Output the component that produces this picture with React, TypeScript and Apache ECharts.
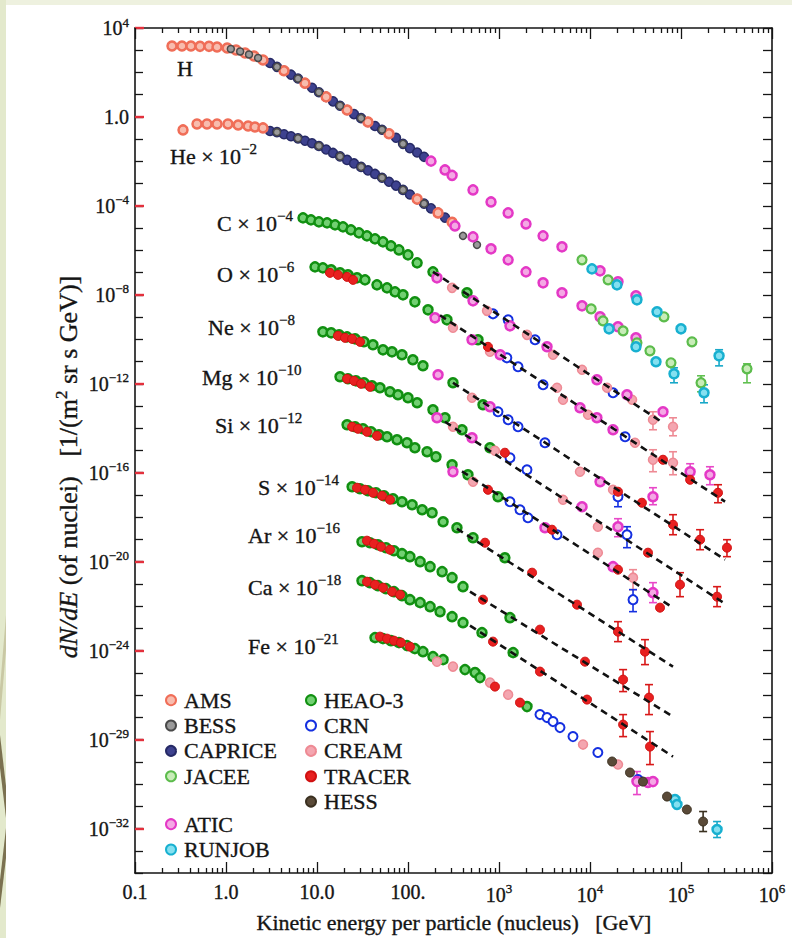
import React, { useEffect, useRef } from "react";
import * as echarts from "echarts";

type Pt = [number, number];
type Bar = [number, number, number];

// ---------- tick labels ----------
const X_DECADES = [-1, 0, 1, 2, 3, 4, 5, 6];
const X_TICK_BASE = ["0.1", "1.0", "10.0", "100.", "10", "10", "10", "10"];
const X_TICK_SUP = ["", "", "", "", "3", "4", "5", "6"];
const MINOR_MULT = [2, 3, 4, 5, 6, 7, 8, 9];
const Y_LABEL_POS = [4, 0, -4, -8, -12, -16, -20, -24, -28, -32];
const Y_TICK_BASE = ["10", "1.0", "10", "10", "10", "10", "10", "10", "10", "10"];
const Y_TICK_SUP = ["4", "", "\u22124", "\u22128", "\u221212", "\u221216", "\u221220", "\u221224", "\u221229", "\u221232"];

// ---------- element annotations ----------
const ELEMENTS = ["H", "He", "C", "O", "Ne", "Mg", "Si", "S", "Ar", "Ca", "Fe"];
const SCALE_EXP = ["", "\u22122", "\u22124", "\u22126", "\u22128", "\u221210", "\u221212", "\u221214", "\u221216", "\u221218", "\u221221"];
const LABEL_XY: Pt[] = [[177, 68], [170, 156], [217, 223], [217, 274], [208, 327], [202, 377], [215, 425], [258, 487], [248, 535], [248, 587], [248, 646]];

// ---------- data: [kinetic energy GeV, scaled dN/dE] ----------
const AMS_H: Pt[] = [[0.255, 1.55e3], [0.328, 1.55e3], [0.412, 1.55e3], [0.518, 1.5e3], [0.65, 1.5e3], [0.797, 1.4e3], [1.03, 1.26e3], [1.29, 1.03e3], [1.62, 750], [2.03, 550], [2.55, 365], [4.34, 119], [7.38, 33], [12.6, 8.0], [21.4, 2.06], [36.3, 0.596], [61.8, 0.176]];
const AMS_HE: Pt[] = [[0.337, 0.261], [0.48, 0.485], [0.618, 0.485], [0.797, 0.485], [1.05, 0.485], [1.36, 0.437], [1.75, 0.394], [2.08, 0.355], [2.55, 0.321], [126, 2.02e-4], [214, 4.84e-5], [305, 1.85e-5]];
const BESS_H: Pt[] = [[1.13, 1.14e3], [1.43, 879], [1.79, 644], [2.25, 448], [3.63, 179], [6.18, 53.2], [10.5, 12.9], [17.9, 3.19], [30.5, 0.883], [51.8, 0.266], [88.1, 0.0618], [179, 0.0103]];
const BESS_HE: Pt[] = [[3.63, 0.207], [6.18, 0.109], [10.5, 0.0497], [17.9, 0.0168], [30.5, 5.66e-3], [51.8, 1.85e-3], [88.1, 5.24e-4], [150, 1.26e-4], [402, 4.49e-6], [573, 1.77e-6]];
const CAPRICE_H: Pt[] = [[3.05, 267], [3.63, 179], [4.34, 119], [5.18, 79.6], [6.18, 53.2], [7.38, 33], [8.81, 20.5], [10.5, 12.9], [12.6, 8.0], [15, 5.02], [17.9, 3.19], [21.4, 2.06], [25.5, 1.34], [30.5, 0.883], [36.3, 0.596], [43.4, 0.394], [51.8, 0.266], [61.8, 0.176], [73.8, 0.116], [88.1, 0.0618], [105, 0.0396], [126, 0.0251], [150, 0.0161]];
const CAPRICE_HE: Pt[] = [[3.05, 0.235], [3.63, 0.207], [4.34, 0.167], [5.18, 0.136], [6.18, 0.109], [7.38, 0.0851], [8.81, 0.0658], [10.5, 0.0497], [12.6, 0.0346], [15, 0.0241], [17.9, 0.0168], [21.4, 0.0117], [25.5, 8.13e-3], [30.5, 5.66e-3], [36.3, 3.94e-3], [43.4, 2.74e-3], [51.8, 1.85e-3], [61.8, 1.22e-3], [73.8, 8.17e-4], [88.1, 5.24e-4], [105, 3.25e-4], [126, 2.02e-4], [150, 1.26e-4], [179, 7.73e-5], [214, 4.84e-5], [255, 2.98e-5]];

const ATIC_H: Pt[] = [[179, 0.0103], [255, 4.15e-3], [305, 2.35e-3], [518, 5.24e-4], [817, 1.51e-4], [1.26e3, 4.84e-5], [1.98e3, 1.55e-5], [3.05e3, 4.49e-6], [4.92e3, 1.44e-6], [1.29e4, 1.2e-7], [2.03e4, 3.84e-8], [3.2e4, 9.02e-9]];
const ATIC_HE: Pt[] = [[328, 1.26e-5], [518, 4.04e-6], [817, 1.17e-6], [1.26e3, 3.74e-7], [1.98e3, 1.08e-7], [3.05e3, 3.46e-8], [4.92e3, 1.23e-8], [8.17e3, 3.2e-9], [1.29e4, 1.03e-9], [2.03e4, 3.65e-10], [3.2e4, 1.17e-10]];
const ATIC_C: Pt[] = [[208, 5.81e-8], [518, 5.37e-9], [1.32e3, 4.04e-10], [3.37e3, 4.6e-11], [1.19e4, 1.51e-12], [2.55e4, 3.2e-13], [6.34e4, 5.52e-14]];
const ATIC_O: Pt[] = [[198, 9.25e-10], [505, 9.5e-11], [1.03e3, 2.01e-11], [7.76e3, 8.34e-14], [1.19e4, 2.96e-14], [1.79e4, 8.57e-15], [1.26e5, 1.11e-16], [2.08e5, 8.13e-17]];
const ATIC_NE: Pt[] = [[214, 2.54e-12], [796, 9.25e-14], [1.29e4, 3.94e-17], [4.92e4, 8.34e-18]];
const ATIC_MG: Pt[] = [[208, 2.96e-14], [505, 3.74e-15], [8.17e3, 2.96e-18], [2.03e4, 3.74e-19]];
const ATIC_SI: Pt[] = [[312, 1.11e-16], [3.2e3, 3.37e-19], [1.79e4, 5.96e-21], [4.92e4, 4.04e-22]];
const ATIC_FE: Pt[] = [[3.28e4, 1.29e-30], [4.34e4, 1.17e-30], [4.92e4, 1.29e-30]];

const JACEE_H: Pt[] = [[8.17e3, 3.74e-7], [1.58e4, 4.72e-8], [6.5e4, 1.03e-9], [1.32e5, 7.72e-11], [5.31e5, 4.72e-12]];
const JACEE_HE: Pt[] = [[1.03e4, 2.35e-9], [1.39e4, 6.78e-10], [2.31e4, 2.41e-10], [3.28e4, 6.96e-11], [4.56e4, 3.04e-11], [7.76e4, 8.79e-12], [1.66e5, 1.11e-12]];
const RUNJOB_H: Pt[] = [[1.05e4, 1.47e-7], [1.98e4, 2.81e-8], [3.28e4, 5.96e-9], [5.45e4, 1.72e-9], [1.0e5, 2.96e-10], [2.62e5, 1.81e-11]];
const RUNJOB_HE: Pt[] = [[1.62e4, 2.96e-10], [3.2e4, 4.6e-11], [5.31e4, 9.75e-12], [8.38e4, 2.81e-12], [1.79e5, 3.94e-13]];
const RUNJOB_FE: Pt[] = [[8.59e4, 2.01e-31], [9.03e4, 1.2e-31], [2.49e5, 9.0e-33]];

const HEAO_C: Pt[] = [[7.02, 2.89e-5], [8.59, 2.35e-5], [10.5, 1.91e-5], [12.9, 1.72e-5], [15.8, 1.4e-5], [19.3, 1.14e-5], [23.6, 8.34e-6], [28.9, 6.12e-6], [35.4, 4.49e-6], [43.4, 3.29e-6], [53.1, 2.41e-6], [65.0, 1.59e-6], [79.6, 1.05e-6], [100, 6.28e-7], [126, 2.74e-7], [188, 1.08e-7], [445, 1.23e-8]];
const HEAO_O: Pt[] = [[9.51, 1.81e-7], [11.6, 1.63e-7], [14.3, 1.33e-7], [17.9, 9.75e-8], [21.9, 7.93e-8], [27.5, 5.81e-8], [33.7, 4.72e-8], [45.6, 2.81e-8], [58.8, 2.06e-8], [72.0, 1.36e-8], [88.1, 1.0e-8], [119, 4.84e-9], [166, 2.12e-9], [268, 7.52e-10], [588, 9.5e-11]];
const HEAO_NE: Pt[] = [[11.6, 2.17e-10], [14.3, 1.96e-10], [17.5, 1.59e-10], [21.4, 1.29e-10], [26.2, 1.05e-10], [32.8, 7.72e-11], [41.2, 5.66e-11], [53.1, 3.37e-11], [66.7, 2.74e-11], [85.9, 2.01e-11], [113, 1.2e-11], [146, 6.44e-12], [312, 1.11e-12], [667, 1.14e-13]];
const HEAO_MG: Pt[] = [[17.9, 2.06e-12], [21.9, 1.68e-12], [26.8, 1.36e-12], [32.8, 1.11e-12], [40.2, 8.13e-13], [49.2, 6.61e-13], [63.4, 4.37e-13], [77.6, 3.2e-13], [100, 2.35e-13], [126, 1.4e-13], [188, 6.78e-14], [255, 2.96e-14], [392, 8.57e-15], [796, 1.33e-15]];
const HEAO_SI: Pt[] = [[21.4, 1.44e-14], [26.2, 1.17e-14], [32.0, 9.5e-15], [39.2, 6.97e-15], [48.0, 5.11e-15], [58.8, 4.15e-15], [75.7, 3.04e-15], [97.5, 2.23e-15], [119, 1.33e-15], [162, 8.79e-16], [203, 5.24e-16], [305, 2.29e-16], [456, 8.13e-17], [975, 8.34e-18]];
const HEAO_S: Pt[] = [[24.3, 2.35e-17], [29.7, 1.91e-17], [36.3, 1.55e-17], [44.5, 1.26e-17], [54.5, 9.25e-18], [68.4, 6.78e-18], [85.9, 4.98e-18], [111, 3.65e-18], [143, 2.17e-18], [184, 1.59e-18], [243, 6.28e-19], [345, 3.37e-19], [518, 1.2e-19], [1.16e3, 1.51e-20]];
const HEAO_AR: Pt[] = [[31.2, 7.93e-20], [38.2, 7.14e-20], [46.8, 5.81e-20], [57.3, 4.26e-20], [70.2, 3.12e-20], [85.9, 2.29e-20], [105, 1.68e-20], [136, 1.0e-20], [175, 5.96e-21], [237, 3.56e-21], [305, 1.91e-21], [402, 7.52e-22], [1.32e3, 3.04e-23]];
const HEAO_CA: Pt[] = [[31.2, 1.4e-21], [38.2, 1.14e-21], [46.8, 8.34e-22], [57.3, 6.12e-22], [70.2, 4.48e-22], [85.9, 2.96e-22], [105, 1.96e-22], [136, 1.44e-22], [175, 9.5e-23], [225, 5.66e-23], [305, 3.37e-23], [402, 1.81e-23], [650, 6.44e-24], [1.43e3, 8.13e-25]];
const HEAO_FE: Pt[] = [[43.4, 3.84e-24], [53.1, 3.46e-24], [65.0, 2.81e-24], [79.6, 2.29e-24], [97.5, 1.68e-24], [119, 1.23e-24], [146, 9.0e-25], [188, 5.37e-25], [243, 3.94e-25], [423, 1.4e-25], [545, 1.03e-25], [618, 6.12e-26], [2.03e3, 3.04e-27]];

const CRN_C: Pt[] = [[859, 1.4e-9], [1.26e3, 7.52e-10], [2.49e3, 9.5e-11], [1.79e4, 3.94e-13]];
const CRN_O: Pt[] = [[1.22e3, 1.47e-11], [1.62e3, 5.8e-12], [3.05e3, 9.0e-13], [2.43e4, 4.15e-15]];
const CRN_NE: Pt[] = [[975, 5.52e-14], [1.26e3, 2.41e-14], [1.62e3, 1.17e-14], [3.2e3, 2.23e-15], [2.03e4, 8.34e-18]];
const CRN_MG: Pt[] = [[1.32e3, 4.72e-16], [2.03e3, 1.36e-16], [2.55e4, 1.63e-19]];
const CRN_SI: Pt[] = [[1.32e3, 4.98e-18], [1.7e3, 2.17e-18], [2.08e3, 9.5e-19], [4.34e3, 1.63e-19], [2.97e4, 1.96e-22]];
const CRN_FE: Pt[] = [[2.82e3, 1.33e-27], [3.37e3, 9.75e-28], [3.92e3, 6.44e-28], [4.68e3, 3.46e-28], [6.5e3, 1.36e-28], [1.22e4, 2.61e-29], [3.37e4, 1.59e-30]];

const CREAM_C: Pt[] = [[305, 2.06e-8], [738, 1.91e-9], [2.03e3, 1.59e-10], [3.92e3, 2.01e-11], [8.17e3, 4.26e-12], [1.54e4, 6.61e-13], [2.9e4, 1.91e-13], [4.92e4, 2.41e-14], [8.17e4, 1.17e-14]];
const CREAM_O: Pt[] = [[312, 3.29e-10], [796, 2.74e-11], [4.34e3, 6.61e-13], [5.05e3, 1.91e-13], [9.51e3, 4.05e-14], [3.12e4, 2.23e-15], [4.92e4, 3.84e-16], [8.17e4, 2.81e-16]];
const CREAM_NE: Pt[] = [[505, 2.35e-13], [7.76e3, 1.11e-16], [1.79e4, 1.72e-17]];
const CREAM_MG: Pt[] = [[312, 1.17e-14], [903, 9.75e-16], [5.05e3, 6.12e-18], [1.22e4, 3.74e-19]];
const CREAM_SI: Pt[] = [[518, 3.94e-17], [1.22e4, 2.54e-20], [2.97e4, 1.91e-21]];
const CREAM_FE: Pt[] = [[208, 3.2e-25], [312, 1.91e-25], [796, 3.65e-26], [1.26e3, 1.05e-26], [8.38e3, 5.96e-29], [2.03e4, 7.52e-30]];

const TRACER_O: Pt[] = [[13.9, 9.75e-8], [17.0, 7.93e-8], [21.4, 6.44e-8], [24.9, 4.72e-8], [757, 4.6e-11], [6.34e4, 3.84e-16], [1.26e5, 4.84e-17], [2.55e5, 1.26e-17]];
const TRACER_NE: Pt[] = [[17.0, 1.44e-10], [20.3, 1.17e-10], [24.3, 1.05e-10], [29.7, 7.72e-11], [2.03e4, 1.4e-17], [3.72e4, 4.48e-18], [8.17e4, 4.6e-19], [1.62e5, 9.75e-20], [3.2e5, 4.26e-20]];
const TRACER_MG: Pt[] = [[21.4, 1.68e-12], [25.5, 1.36e-12], [30.5, 1.0e-12], [38.2, 7.33e-13], [1.16e3, 7.93e-16], [4.34e4, 2.54e-20], [9.75e4, 9.25e-22], [2.49e5, 2.67e-22]];
const TRACER_SI: Pt[] = [[24.3, 1.17e-14], [28.2, 9.5e-15], [35.4, 6.97e-15], [45.6, 4.6e-15], [757, 1.72e-17], [3.82e3, 2.74e-19], [2.03e4, 4.37e-21], [5.88e4, 8.57e-23]];
const TRACER_S: Pt[] = [[27.5, 2.12e-17], [33.7, 1.72e-17], [41.2, 1.26e-17], [51.8, 9.25e-18], [63.4, 6.12e-18], [702, 7.14e-20], [2.31e3, 3.2e-21], [7.2e3, 1.17e-22], [2.03e4, 7.14e-24], [4.02e4, 9.0e-25]];
const TRACER_AR: Pt[] = [[35.4, 8.79e-20], [42.3, 6.44e-20], [50.5, 4.72e-20], [63.4, 3.46e-20], [667, 1.96e-22], [2.82e3, 8.79e-24], [8.81e3, 3.2e-25], [2.31e4, 4.98e-26], [4.45e4, 7.72e-27]];
const TRACER_CA: Pt[] = [[35.4, 1.26e-21], [43.4, 9.25e-22], [53.1, 6.78e-22], [66.7, 4.48e-22], [81.7, 3.29e-22], [859, 2.54e-24], [2.82e3, 1.14e-25], [9.27e3, 6.28e-27], [2.31e4, 4.72e-28], [4.56e4, 4.84e-29]];
const TRACER_FE: Pt[] = [[49.2, 4.26e-24], [58.8, 3.46e-24], [70.2, 2.81e-24], [83.8, 2.29e-24], [105, 1.51e-24], [903, 2.41e-26], [1.7e3, 4.6e-27]];

const HESS_FE: Pt[] = [[1.75e4, 1.03e-29], [2.75e4, 3.29e-30], [3.82e4, 1.29e-30], [7.02e4, 2.74e-31], [1.16e5, 7.14e-32], [1.75e5, 2.06e-32]];

// error bars: [E, low, high]
const ERR_JACEE: Bar[] = [[5.31e5, 1.11e-12, 7.9e-12], [1.66e5, 4.37e-13, 2.29e-12]];
const ERR_RUNJOB: Bar[] = [[2.62e5, 6.4e-12, 3.4e-11], [8.38e4, 1.11e-12, 5.24e-12], [1.79e5, 1.4e-13, 9.0e-13], [2.49e5, 3.94e-33, 2.06e-32]];
const ERR_CREAM: Bar[] = [[4.92e4, 8.57e-15, 5.52e-14], [8.17e4, 4.6e-15, 2.96e-14], [4.92e4, 1.11e-16, 1.08e-15], [8.17e4, 8.13e-17, 8.79e-16], [2.97e4, 5.52e-22, 4.37e-21]];
const ERR_ATIC: Bar[] = [[1.26e5, 3.94e-17, 2.54e-16], [2.08e5, 2.89e-17, 1.86e-16], [4.92e4, 3.65e-18, 2.12e-17], [2.03e4, 1.33e-19, 8.57e-19], [4.92e4, 1.44e-22, 1.14e-21], [3.28e4, 3.37e-31, 3.65e-30]];
const ERR_TRACER: Bar[] = [[2.55e5, 4.48e-18, 2.89e-17], [8.17e4, 1.63e-19, 1.3e-18], [1.62e5, 3.46e-20, 2.74e-19], [3.2e5, 1.68e-20, 9.75e-20], [9.75e4, 2.67e-22, 3.2e-21], [2.49e5, 9.5e-23, 7.52e-22], [2.03e4, 2.54e-24, 2.01e-23], [4.02e4, 2.35e-25, 3.12e-24], [2.31e4, 1.44e-26, 1.4e-25], [4.45e4, 1.33e-27, 2.96e-26], [2.31e4, 1.36e-28, 1.33e-27], [4.56e4, 7.52e-30, 2.29e-28]];
const ERR_CRN: Bar[] = [[2.03e4, 2.96e-18, 1.72e-17], [2.55e4, 4.26e-20, 3.74e-19], [2.97e4, 5.66e-23, 5.52e-22]];
const ERR_HESS: Bar[] = [[1.75e5, 7.33e-33, 5.81e-32]];

// dashed power-law guides
const FIT_C: Pt[] = [[188, 1.08e-7], [6.34e4, 1.77e-14]];
const FIT_O: Pt[] = [[225, 1.21e-9], [3.05e5, 4.98e-18]];
const FIT_NE: Pt[] = [[312, 1.11e-12], [3.05e5, 1.23e-20]];
const FIT_MG: Pt[] = [[255, 1.96e-14], [3.05e5, 1.29e-22]];
const FIT_SI: Pt[] = [[392, 1.16e-16], [8.17e4, 8.57e-23]];
const FIT_S: Pt[] = [[345, 3.04e-19], [8.17e4, 1.91e-25]];
const FIT_AR: Pt[] = [[480, 4.48e-22], [8.17e4, 1.08e-27]];
const FIT_CA: Pt[] = [[480, 1.33e-23], [8.17e4, 1.72e-29]];

const FONT = "'Liberation Serif', 'Times New Roman', serif";
const INK = "#151515";
// heavier strokes: ECharts text-style naming (axes, legend) and zrender naming (graphic)
const HEAVY = { textBorderColor: INK, textBorderWidth: 0.35 };
const HEAVY_G = { stroke: INK, lineWidth: 0.35 };

function scatter(name: string, data: Pt[], color: string, border: string, bw: number, size: number) {
  return {
    name, type: "scatter", xAxisIndex: 0, yAxisIndex: 0, data,
    symbol: "circle", symbolSize: size, z: 2, silent: true,
    itemStyle: { color, borderColor: border, borderWidth: bw, opacity: 1 },
    emphasis: { disabled: true },
  };
}

function errBars(name: string, data: Bar[], color: string) {
  return {
    name, type: "custom", xAxisIndex: 0, yAxisIndex: 0, data, z: 1, silent: true,
    encode: { x: 0, y: [1, 2] },
    renderItem: (_p: any, api: any) => {
      const e = api.value(0);
      const a = api.coord([e, api.value(1)]);
      const b = api.coord([e, api.value(2)]);
      const w = 4;
      const st = { stroke: color, lineWidth: 1.6 };
      return {
        type: "group",
        children: [
          { type: "line", shape: { x1: a[0], y1: a[1], x2: b[0], y2: b[1] }, style: st },
          { type: "line", shape: { x1: a[0] - w, y1: a[1], x2: a[0] + w, y2: a[1] }, style: st },
          { type: "line", shape: { x1: b[0] - w, y1: b[1], x2: b[0] + w, y2: b[1] }, style: st },
        ],
      };
    },
  };
}

function fit(name: string, data: Pt[]) {
  return {
    name, type: "line", xAxisIndex: 0, yAxisIndex: 0, data, symbol: "none", z: 3, silent: true,
    lineStyle: { color: "#111", width: 2.6, type: [7, 5] },
  };
}

const supRich = (size: number, supSize: number, lift: number) => ({
  b: { fontFamily: FONT, fontSize: size, color: INK, ...HEAVY },
  s: { fontFamily: FONT, fontSize: supSize, color: INK, padding: [0, 0, lift, 0], ...HEAVY },
});
const supRichG = (size: number, supSize: number, lift: number) => ({
  b: { fontFamily: FONT, fontSize: size, fill: INK, ...HEAVY_G },
  s: { fontFamily: FONT, fontSize: supSize, fill: INK, padding: [0, 0, lift, 0], ...HEAVY_G },
});

export default function App() {
  const ref = useRef<HTMLDivElement>(null);
  useEffect(() => {
    if (!ref.current) return;
    const chart = echarts.init(ref.current, undefined, { renderer: "svg" });

    const xMinor: number[] = [];
    X_DECADES.slice(0, -1).forEach((d) => MINOR_MULT.forEach((m) => xMinor.push(d + Math.log10(m))));

    const xLabel = (v: number) => {
      const i = X_DECADES.indexOf(Math.round(v));
      if (i < 0) return "";
      return X_TICK_SUP[i] ? `{b|${X_TICK_BASE[i]}}{s|${X_TICK_SUP[i]}}` : `{b|${X_TICK_BASE[i]}}`;
    };
    const yLabel = (v: number) => {
      const i = Y_LABEL_POS.indexOf(Math.round(v));
      if (i < 0) return "";
      return Y_TICK_SUP[i] ? `{b|${Y_TICK_BASE[i]}}{s|${Y_TICK_SUP[i]}}` : `{b|${Y_TICK_BASE[i]}}`;
    };

    const tickLine = { color: INK, width: 1.3 };
    const frameLine = { show: true, onZero: false, lineStyle: { color: INK, width: 1.6 } };
    const deco = { type: "value", silent: true, splitLine: { show: false } };
    const legendText = { fontFamily: FONT, fontSize: 22, lineHeight: 22, color: INK, ...HEAVY };

    const labelTexts = ELEMENTS.map((el, i) => ({
      type: "text",
      x: LABEL_XY[i][0],
      y: LABEL_XY[i][1],
      z: 20,
      style: {
        text: SCALE_EXP[i] ? `{b|${el} \u00d7 10}{s|${SCALE_EXP[i]}}` : `{b|${el}}`,
        rich: supRichG(22, 15, 14),
        align: "left",
        verticalAlign: "middle",
        fontFamily: FONT,
        fontSize: 22,
        fill: INK,
      },
    }));

    const option: any = {
      animation: false,
      backgroundColor: "#ffffff",
      grid: { left: 135, right: 20, top: 28, bottom: 65, containLabel: false, outerBoundsMode: "none" },
      xAxis: [
        { type: "log", logBase: 10, min: 0.1, max: 1e6, show: false, position: "bottom" },
        {
          ...deco, min: -1, max: 6, interval: 1, position: "bottom",
          axisLine: frameLine,
          axisTick: { show: true, inside: true, length: 11, lineStyle: tickLine },
          axisLabel: { formatter: xLabel, margin: 9, rich: supRich(20, 13, 12), fontFamily: FONT, fontSize: 20, color: INK },
        },
        {
          ...deco, min: -1, max: 6, position: "bottom",
          axisLine: { show: false, onZero: false },
          axisTick: { show: true, inside: true, length: 5, customValues: xMinor, lineStyle: tickLine },
          axisLabel: { show: false },
        },
        {
          ...deco, min: -1, max: 6, interval: 1, position: "top",
          axisLine: frameLine,
          axisTick: { show: true, inside: true, length: 11, lineStyle: tickLine },
          axisLabel: { show: false },
        },
        {
          ...deco, min: -1, max: 6, position: "top",
          axisLine: { show: false, onZero: false },
          axisTick: { show: true, inside: true, length: 5, customValues: xMinor, lineStyle: tickLine },
          axisLabel: { show: false },
        },
      ],
      yAxis: [
        { type: "log", logBase: 10, min: 1e-34, max: 1e4, show: false, position: "left" },
        {
          ...deco, min: -34, max: 4, interval: 1, position: "left",
          axisLine: frameLine,
          axisTick: { show: true, inside: true, length: 8, lineStyle: tickLine },
          axisLabel: { formatter: yLabel, customValues: Y_LABEL_POS, margin: 6, rich: supRich(20, 13, 12), fontFamily: FONT, fontSize: 20, color: INK },
        },
        {
          ...deco, min: -34, max: 4, position: "left",
          axisLine: { show: false, onZero: false },
          axisTick: { show: true, inside: true, length: 9, customValues: Y_LABEL_POS, lineStyle: { color: "#e3303c", width: 2.4 } },
          axisLabel: { show: false },
        },
        {
          ...deco, min: -34, max: 4, interval: 1, position: "right",
          axisLine: frameLine,
          axisTick: { show: true, inside: true, length: 9, lineStyle: tickLine },
          axisLabel: { show: false },
        },
      ],
      legend: [
        {
          data: ["AMS", "BESS", "CAPRICE", "JACEE"], left: 160, top: 684, orient: "vertical",
          itemWidth: 16, itemHeight: 10, itemGap: 3, selectedMode: false, textStyle: legendText,
        },
        {
          data: ["ATIC", "RUNJOB"], left: 160, top: 808, orient: "vertical",
          itemWidth: 16, itemHeight: 10, itemGap: 3, selectedMode: false, textStyle: legendText,
        },
        {
          data: ["HEAO-3", "CRN", "CREAM", "TRACER", "HESS"], left: 300, top: 684, orient: "vertical",
          itemWidth: 16, itemHeight: 10, itemGap: 3, selectedMode: false, textStyle: legendText,
        },
      ],
      graphic: [
        { type: "rect", left: 0, top: 0, z: 0, shape: { width: 792, height: 5 }, style: { fill: "#eef1df" } },
        { type: "rect", left: 0, top: 0, z: 0, shape: { width: 6, height: 938 }, style: { fill: "#e3e9cc" } },
        { type: "polygon", z: 1, shape: { points: [[6, 615], [6, 650], [0, 720], [0, 688]] }, style: { fill: "#c9c8a4" } },
        { type: "polygon", z: 1, shape: { points: [[0, 735], [0, 768], [6, 818], [6, 786]] }, style: { fill: "#7b7150" } },
        { type: "polygon", z: 1, shape: { points: [[6, 828], [6, 858], [0, 908], [0, 880]] }, style: { fill: "#7b7150" } },
        ...labelTexts,
        {
          type: "text", x: 68, y: 467, rotation: Math.PI / 2, z: 20,
          style: {
            text: "{i|dN/dE}{n| (of nuclei)\u00a0\u00a0\u00a0[1/(m}{s|2}{n| sr s GeV)]}",
            rich: {
              i: { fontFamily: FONT, fontSize: 26, fontStyle: "italic", fill: INK, ...HEAVY_G },
              n: { fontFamily: FONT, fontSize: 26, fill: INK, ...HEAVY_G },
              s: { fontFamily: FONT, fontSize: 17, fill: INK, padding: [0, 0, 14, 0], ...HEAVY_G },
            },
            align: "center", verticalAlign: "middle", fontFamily: FONT, fontSize: 26, fill: INK,
          },
        },
        {
          type: "text", x: 454, y: 922, z: 20,
          style: {
            text: "Kinetic energy per particle (nucleus)\u00a0\u00a0\u00a0[GeV]",
            align: "center", verticalAlign: "middle", fontFamily: FONT, fontSize: 22, fill: INK,
            ...HEAVY_G,
          },
        },
      ],
      series: [
        errBars("err-CREAM", ERR_CREAM, "#ee8a94"),
        errBars("err-ATIC", ERR_ATIC, "#e848c8"),
        errBars("err-JACEE", ERR_JACEE, "#60c050"),
        errBars("err-RUNJOB", ERR_RUNJOB, "#18a8c8"),
        errBars("err-CRN", ERR_CRN, "#1530e0"),
        errBars("err-TRACER", ERR_TRACER, "#d81818"),
        errBars("err-HESS", ERR_HESS, "#3a3020"),
        scatter("HEAO-3", [...HEAO_C, ...HEAO_O, ...HEAO_NE, ...HEAO_MG, ...HEAO_SI, ...HEAO_S, ...HEAO_AR, ...HEAO_CA, ...HEAO_FE], "#72d072", "#119011", 2.5, 9),
        scatter("CAPRICE", [...CAPRICE_H, ...CAPRICE_HE], "#3e428f", "#262a66", 1.5, 9),
        scatter("AMS", [...AMS_H, ...AMS_HE], "#f8bcae", "#f06e58", 2.5, 9),
        scatter("BESS", [...BESS_H, ...BESS_HE], "#9a9a9a", "#4a4a4a", 1.5, 7),
        scatter("CRN", [...CRN_C, ...CRN_O, ...CRN_NE, ...CRN_MG, ...CRN_SI, ...CRN_FE], "#ffffff", "#1530e0", 2, 9),
        scatter("CREAM", [...CREAM_C, ...CREAM_O, ...CREAM_NE, ...CREAM_MG, ...CREAM_SI, ...CREAM_FE], "#f4a6b0", "#ee8a94", 1.5, 9),
        scatter("ATIC", [...ATIC_H, ...ATIC_HE, ...ATIC_C, ...ATIC_O, ...ATIC_NE, ...ATIC_MG, ...ATIC_SI, ...ATIC_FE], "#f4a8e4", "#e438c6", 2.5, 9),
        scatter("JACEE", [...JACEE_H, ...JACEE_HE], "#c8ecb8", "#5cbc4c", 2.2, 9),
        scatter("RUNJOB", [...RUNJOB_H, ...RUNJOB_HE, ...RUNJOB_FE], "#84e0f0", "#18b0d0", 2.5, 9),
        scatter("TRACER", [...TRACER_O, ...TRACER_NE, ...TRACER_MG, ...TRACER_SI, ...TRACER_S, ...TRACER_AR, ...TRACER_CA, ...TRACER_FE], "#e82020", "#d01010", 1, 9),
        scatter("HESS", HESS_FE, "#5a4a38", "#3a3020", 1, 9),
        fit("fit-C", FIT_C),
        fit("fit-O", FIT_O),
        fit("fit-Ne", FIT_NE),
        fit("fit-Mg", FIT_MG),
        fit("fit-Si", FIT_SI),
        fit("fit-S", FIT_S),
        fit("fit-Ar", FIT_AR),
        fit("fit-Ca", FIT_CA),
      ],
    };

    chart.setOption(option);
    return () => chart.dispose();
  }, []);

  return (
    <div
      ref={ref}
      style={{ position: "fixed", left: 0, top: 0, width: 792, height: 938, background: "#ffffff" }}
    />
  );
}
